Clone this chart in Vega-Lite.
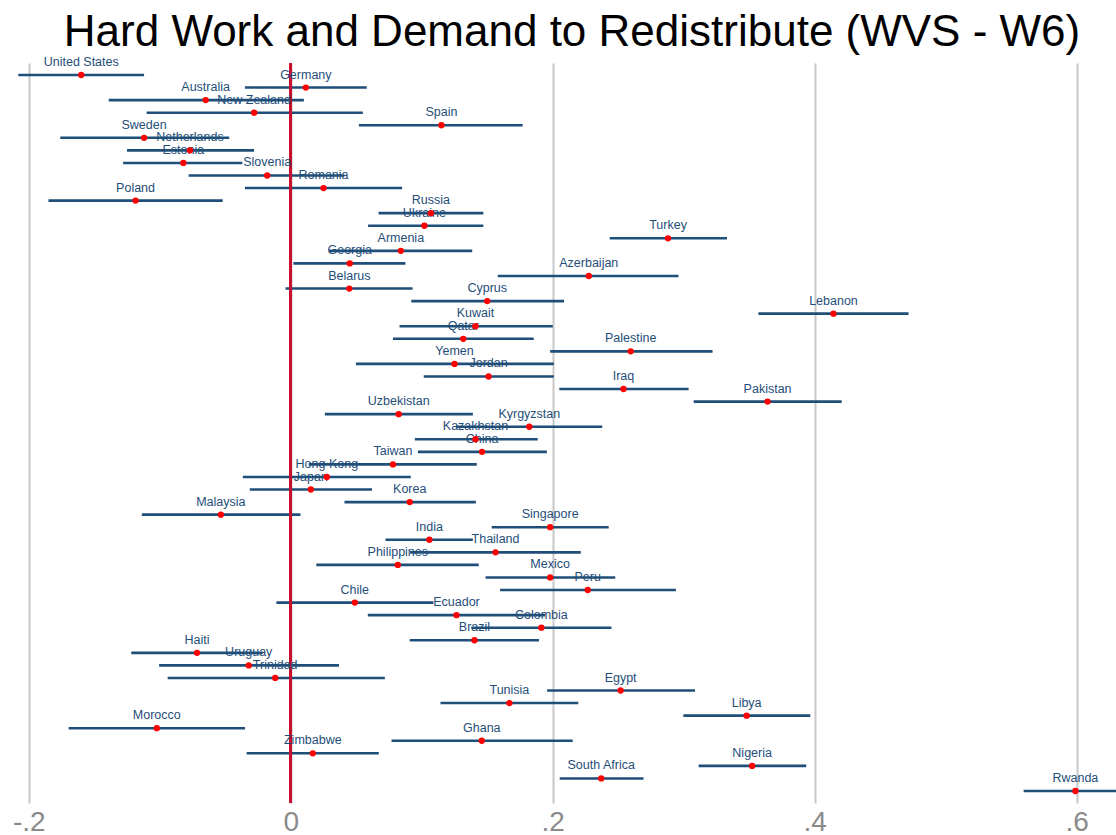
{
  "$schema": "https://vega.github.io/schema/vega-lite/v6.json",
  "autosize": "none",
  "width": 1116,
  "height": 740,
  "padding": {"top": 63, "left": 0, "right": 0, "bottom": 32},
  "background": "white",
  "title": {
    "text": "Hard Work and Demand to Redistribute (WVS - W6)",
    "font": "Liberation Sans",
    "fontSize": 44,
    "fontWeight": "normal",
    "color": "black",
    "anchor": "middle",
    "offset": 1,
    "dx": 14
  },
  "config": {"view": {"stroke": null}, "font": "Liberation Sans"},
  "data": {
    "values": [
      {"country": "United States", "est": -0.160, "lo": -0.208, "hi": -0.112},
      {"country": "Germany", "est": 0.0115, "lo": -0.035, "hi": 0.058},
      {"country": "Australia", "est": -0.065, "lo": -0.139, "hi": 0.010},
      {"country": "New Zealand", "est": -0.028, "lo": -0.110, "hi": 0.055},
      {"country": "Spain", "est": 0.115, "lo": 0.052, "hi": 0.177},
      {"country": "Sweden", "est": -0.112, "lo": -0.176, "hi": -0.047},
      {"country": "Netherlands", "est": -0.077, "lo": -0.125, "hi": -0.028},
      {"country": "Estonia", "est": -0.082, "lo": -0.128, "hi": -0.037},
      {"country": "Slovenia", "est": -0.018, "lo": -0.078, "hi": 0.041},
      {"country": "Romania", "est": 0.025, "lo": -0.035, "hi": 0.085},
      {"country": "Poland", "est": -0.1185, "lo": -0.185, "hi": -0.052},
      {"country": "Russia", "est": 0.107, "lo": 0.067, "hi": 0.147},
      {"country": "Ukraine", "est": 0.102, "lo": 0.059, "hi": 0.147},
      {"country": "Turkey", "est": 0.288, "lo": 0.2435, "hi": 0.333},
      {"country": "Armenia", "est": 0.084, "lo": 0.029, "hi": 0.1385},
      {"country": "Georgia", "est": 0.045, "lo": 0.002, "hi": 0.0875},
      {"country": "Azerbaijan", "est": 0.2275, "lo": 0.158, "hi": 0.296},
      {"country": "Belarus", "est": 0.0447, "lo": -0.004, "hi": 0.093},
      {"country": "Cyprus", "est": 0.150, "lo": 0.092, "hi": 0.2086},
      {"country": "Lebanon", "est": 0.4143, "lo": 0.357, "hi": 0.4716},
      {"country": "Kuwait", "est": 0.141, "lo": 0.083, "hi": 0.200},
      {"country": "Qatar", "est": 0.1317, "lo": 0.078, "hi": 0.1855},
      {"country": "Palestine", "est": 0.2595, "lo": 0.198, "hi": 0.322},
      {"country": "Yemen", "est": 0.125, "lo": 0.0497, "hi": 0.2008},
      {"country": "Jordan", "est": 0.151, "lo": 0.1015, "hi": 0.2008},
      {"country": "Iraq", "est": 0.254, "lo": 0.205, "hi": 0.3037},
      {"country": "Pakistan", "est": 0.364, "lo": 0.3076, "hi": 0.4206},
      {"country": "Uzbekistan", "est": 0.0824, "lo": 0.026, "hi": 0.139},
      {"country": "Kyrgyzstan", "est": 0.1821, "lo": 0.1264, "hi": 0.2378},
      {"country": "Kazakhstan", "est": 0.141, "lo": 0.0947, "hi": 0.1885},
      {"country": "China", "est": 0.146, "lo": 0.097, "hi": 0.1955},
      {"country": "Taiwan", "est": 0.078, "lo": 0.0137, "hi": 0.142},
      {"country": "Hong Kong", "est": 0.0275, "lo": -0.0366, "hi": 0.0916},
      {"country": "Japan", "est": 0.0153, "lo": -0.0313, "hi": 0.062},
      {"country": "Korea", "est": 0.0908, "lo": 0.041, "hi": 0.1413},
      {"country": "Malaysia", "est": -0.0534, "lo": -0.1137, "hi": 0.0074},
      {"country": "Singapore", "est": 0.198, "lo": 0.1534, "hi": 0.2427},
      {"country": "India", "est": 0.1058, "lo": 0.0723, "hi": 0.139},
      {"country": "Thailand", "est": 0.1563, "lo": 0.0911, "hi": 0.2214},
      {"country": "Philippines", "est": 0.0817, "lo": 0.0195, "hi": 0.1435},
      {"country": "Mexico", "est": 0.198, "lo": 0.1487, "hi": 0.2477},
      {"country": "Peru", "est": 0.2267, "lo": 0.1598, "hi": 0.294},
      {"country": "Chile", "est": 0.0489, "lo": -0.011, "hi": 0.1089},
      {"country": "Ecuador", "est": 0.1265, "lo": 0.0588, "hi": 0.1942},
      {"country": "Colombia", "est": 0.1913, "lo": 0.1378, "hi": 0.2448},
      {"country": "Brazil", "est": 0.1402, "lo": 0.0908, "hi": 0.1895},
      {"country": "Haiti", "est": -0.0716, "lo": -0.1218, "hi": -0.0214},
      {"country": "Uruguay", "est": -0.0321, "lo": -0.1005, "hi": 0.0368},
      {"country": "Trinidad", "est": -0.0119, "lo": -0.094, "hi": 0.0718},
      {"country": "Egypt", "est": 0.2518, "lo": 0.1957, "hi": 0.3086},
      {"country": "Tunisia", "est": 0.1669, "lo": 0.1143, "hi": 0.2195},
      {"country": "Libya", "est": 0.348, "lo": 0.2997, "hi": 0.3966},
      {"country": "Morocco", "est": -0.1023, "lo": -0.1696, "hi": -0.0349},
      {"country": "Ghana", "est": 0.1458, "lo": 0.0769, "hi": 0.2152},
      {"country": "Zimbabwe", "est": 0.0168, "lo": -0.0337, "hi": 0.0672},
      {"country": "Nigeria", "est": 0.3522, "lo": 0.3114, "hi": 0.3935},
      {"country": "South Africa", "est": 0.237, "lo": 0.2053, "hi": 0.2693},
      {"country": "Rwanda", "est": 0.599, "lo": 0.5595, "hi": 0.6385}
    ]
  },
  "encoding": {
    "y": {
      "field": "country",
      "type": "nominal",
      "sort": null,
      "scale": {"type": "point", "padding": 0.955},
      "axis": null
    }
  },
  "layer": [
    {
      "mark": {"type": "rule", "strokeWidth": 2.6, "color": "#1f4e79", "clip": true},
      "encoding": {
        "x": {
          "field": "lo",
          "type": "quantitative",
          "scale": {"domain": [-0.222, 0.63], "nice": false, "zero": false},
          "axis": {
            "values": [-0.2, 0, 0.2, 0.4, 0.6],
            "labelExpr": "datum.value < 0 ? '-.2' : (datum.value == 0 ? '0' : '.' + round(datum.value * 10))",
            "title": null,
            "domain": false,
            "ticks": false,
            "grid": true,
            "gridColor": "#c8c8c8",
            "gridWidth": 2,
            "labelFont": "Liberation Sans",
            "labelFontSize": 28,
            "labelColor": "#8a8a8a",
            "labelPadding": 5,
            "labelFlush": false,
            "labelOverlap": false,
            "labelBound": false
          }
        },
        "x2": {"field": "hi"}
      }
    },
    {
      "mark": {"type": "rule", "strokeWidth": 2.4, "color": "#c8102e"},
      "encoding": {"x": {"datum": 0, "type": "quantitative"}, "y": null}
    },
    {
      "mark": {
        "type": "text",
        "font": "Liberation Sans",
        "fontSize": 12.5,
        "color": "#1f4e79",
        "align": "center",
        "baseline": "alphabetic",
        "dy": -9
      },
      "encoding": {
        "x": {"field": "est", "type": "quantitative"},
        "text": {"field": "country"}
      }
    },
    {
      "mark": {"type": "circle", "size": 40, "color": "#ff0000", "opacity": 1},
      "encoding": {
        "x": {"field": "est", "type": "quantitative"}
      }
    }
  ]
}
